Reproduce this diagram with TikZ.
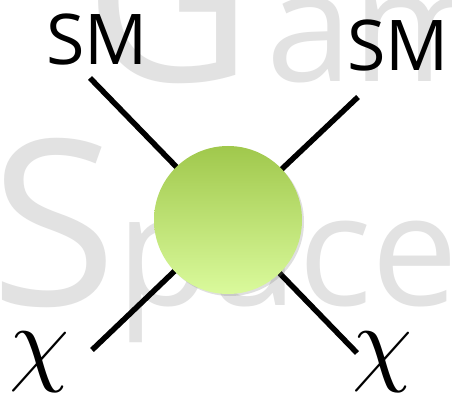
\documentclass[tikz,border=0pt]{standalone}
\usepackage{graphicx}
\usepackage{fontspec}
\usetikzlibrary{shadows}
\newfontfamily\labelfont{Open Sans}
\definecolor{blobtop}{RGB}{160,200,76}
\definecolor{blobbottom}{RGB}{218,250,156}
\definecolor{wmark}{RGB}{226,226,226}
\newcommand{\wmlarge}{\fontsize{231}{231}\selectfont}
\newcommand{\wmsmall}{\fontsize{155}{155}\selectfont}
\newcommand{\bigchi}{\scalebox{9.6}{$\chi$}}
\tikzset{
  leg/.style={line width=5.5pt, black},
  smlabel/.style={font=\labelfont\fontsize{70}{70}\selectfont, inner sep=0pt},
  chilabel/.style={inner sep=0pt},
  watermark/.style={font=\labelfont, text=wmark, inner sep=0pt, anchor=base west},
  blobstyle/.style={circle, minimum size=148pt, inner sep=0pt, top color=blobtop, bottom color=blobbottom,
    drop shadow={shadow xshift=2pt, shadow yshift=-2pt, opacity=0.25}}
}
\begin{document}
\begin{tikzpicture}[x=1pt, y=-1pt]
  \useasboundingbox (0,0) rectangle (452,395);
  \fill[white] (0,0) rectangle (452,395);
  % faint background lettering: large capitals, smaller lower case
  \node[watermark] (wmtop) at (84,82) {\wmlarge G\kern14pt\wmsmall am};
  \node[watermark] (wmbottom) at (-10,305) {\wmlarge S\wmsmall pace};
  % vertex and its four legs
  \coordinate (c) at (228,220);
  \coordinate (tl) at (90,78);
  \coordinate (tr) at (358,97);
  \coordinate (bl) at (92,350);
  \coordinate (br) at (357,353);
  \draw[leg] (c) -- (tl);
  \draw[leg] (c) -- (tr);
  \draw[leg] (c) -- (bl);
  \draw[leg] (c) -- (br);
  \node[blobstyle] (blob) at (c) {};
  % particle labels
  \node[smlabel] (smleft) at (97,40) {SM};
  \node[smlabel] (smright) at (398,46) {SM};
  \node[chilabel] (chileft) at (40,362) {\bigchi};
  \node[chilabel] (chiright) at (383,362) {\bigchi};
\end{tikzpicture}
\end{document}
